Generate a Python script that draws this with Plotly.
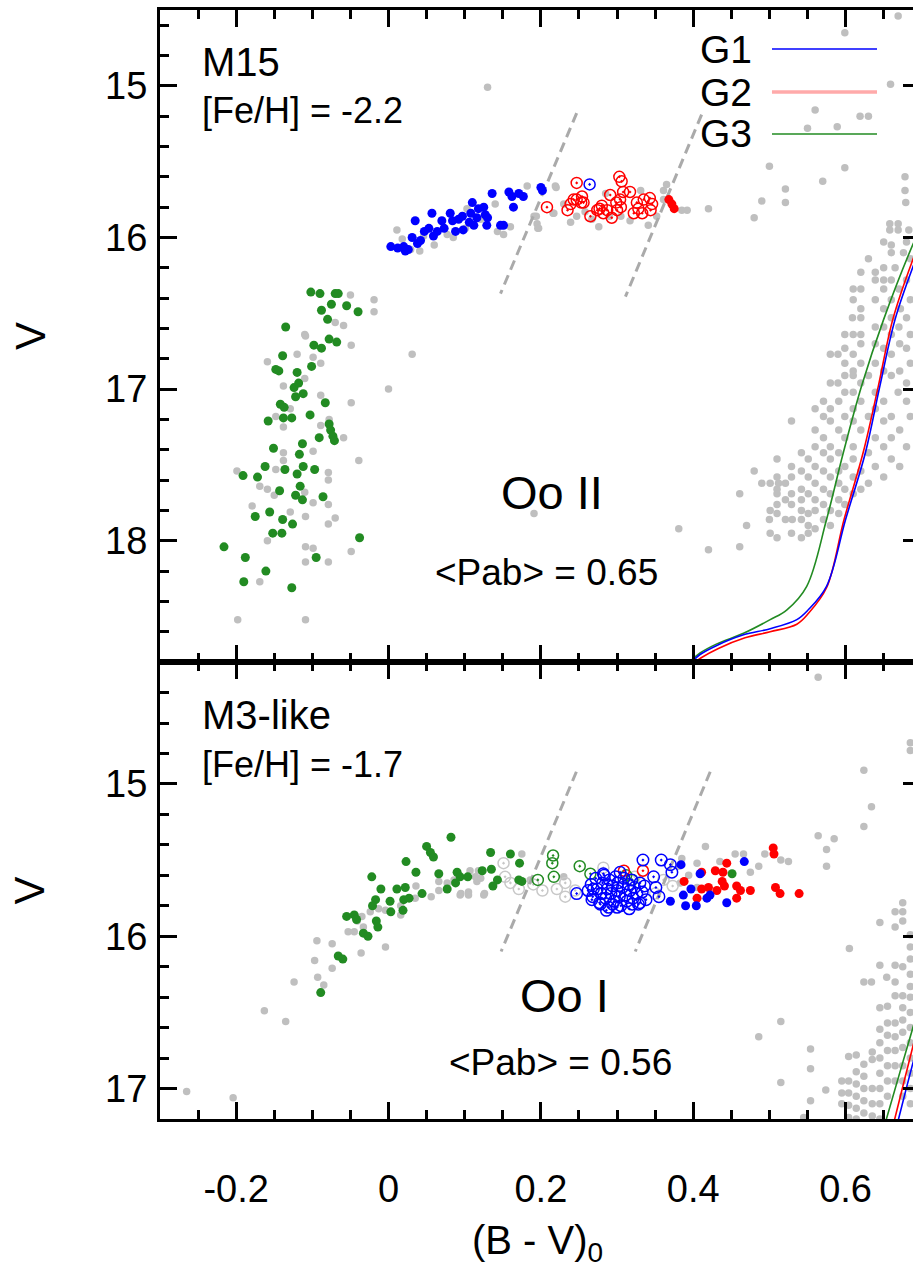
import plotly.graph_objects as go

# ---------------- data (B-V)_0, V ----------------
# upper panel: M15
top_gray = [
    (-0.050,16.38),(-0.019,16.41),(-0.019,16.49),(-0.059,16.58),(-0.070,16.56),(-0.110,16.64),(-0.109,16.65),
    (-0.049,16.71),(0.031,16.77),(-0.159,16.82),(-0.120,16.77),(-0.099,16.79),(-0.089,16.83),(-0.138,16.98),
    (-0.110,16.93),(0.000,17.00),(-0.089,17.04),(-0.049,17.09),(-0.129,17.13),(-0.148,17.18),(-0.138,17.25),
    (-0.089,17.24),(-0.078,17.20),(-0.059,17.32),(-0.099,17.41),(-0.138,17.42),(-0.138,17.47),(-0.039,17.47),
    (-0.199,17.54),(-0.148,17.53),(-0.079,17.55),(-0.079,17.60),(-0.169,17.64),(-0.159,17.66),(-0.150,17.70),
    (-0.110,17.68),(-0.099,17.75),(-0.079,17.76),(-0.179,17.77),(-0.129,17.81),(-0.109,17.84),(-0.070,17.85),
    (-0.079,17.89),(-0.159,18.00),(-0.109,18.04),(-0.099,18.05),(-0.049,18.07),(-0.109,18.14),(-0.079,18.14),
    (-0.169,18.27),(-0.198,18.52),(-0.109,18.52),
    (0.011,15.95),(0.018,16.01),(0.029,16.08),(0.041,16.09),(0.046,15.99),(0.077,15.98),(0.101,15.94),
    (0.121,15.88),(0.140,15.78),(0.143,15.96),(0.151,15.98),(0.160,15.93),(0.182,15.66),(0.191,15.86),
    (0.195,15.91),(0.197,15.94),(0.219,15.66),(0.216,15.84),(0.103,15.81),(0.085,16.00),(0.060,16.05),
    (0.130,15.01),
    (0.220,15.67),(0.194,15.86),(0.196,15.94),(0.217,15.84),(0.239,15.90),(0.276,15.93),(0.285,15.71),
    (0.317,15.89),(0.331,15.69),(0.341,15.92),(0.361,15.69),(0.365,15.65),(0.361,15.75),(0.385,15.82),
    (0.392,15.82),(0.420,15.81),(0.267,15.88),(0.247,15.86),(0.258,15.83),(0.290,15.86),(0.305,15.86),
    (0.352,15.86),(0.230,15.78),
    (0.669,14.54),(0.599,14.65),(0.659,14.99),(0.560,15.16),(0.619,15.20),(0.630,15.20),(0.550,15.28),
    (0.589,15.27),(0.500,15.53),(0.599,15.54),(0.570,15.63),(0.521,15.68),(0.521,15.77),(0.490,15.76),
    (0.480,15.87),(0.678,15.60),(0.678,15.69),(0.679,15.77),
    (0.191,17.82),(0.381,17.92),(0.420,18.06),(0.461,18.04),(0.470,17.90),(0.480,17.54),(0.461,17.69),
    (0.529,17.21),(0.560,17.38),
]
# red-giant branch of M15, by rows: (V, [B-V values])
top_rgb_rows = [
    (15.91,[0.658,0.669]),(15.95,[0.658,0.669,0.683]),(16.03,[0.650,0.680]),(16.05,[0.660]),
    (16.10,[0.660,0.676]),(16.14,[0.630,0.685]),(16.20,[0.650,0.665]),(16.23,[0.620,0.639]),
    (16.28,[0.639,0.650,0.660,0.680]),(16.34,[0.610,0.620,0.650,0.670]),(16.41,[0.610,0.639,0.660,0.685]),
    (16.47,[0.620,0.650,0.672]),(16.53,[0.609,0.620,0.660,0.680]),(16.59,[0.639,0.650,0.670]),
    (16.64,[0.599,0.610,0.620,0.660,0.685]),(16.70,[0.620,0.639,0.671]),(16.73,[0.599,0.650,0.680]),
    (16.77,[0.580,0.590,0.610,0.660]),(16.83,[0.599,0.620,0.639,0.685]),(16.88,[0.610,0.650,0.671]),
    (16.91,[0.599,0.610,0.630,0.660]),(16.96,[0.580,0.590,0.620,0.680]),(17.02,[0.599,0.610,0.639,0.669]),
    (17.08,[0.571,0.591,0.620,0.650,0.680]),(17.13,[0.560,0.580,0.610,0.639]),
    (17.18,[0.571,0.599,0.630,0.660,0.685]),(17.21,[0.580,0.610,0.650]),(17.27,[0.560,0.591,0.620,0.671]),
    (17.32,[0.571,0.599,0.639,0.660]),(17.38,[0.580,0.610,0.650,0.680]),(17.42,[0.542,0.571,0.591,0.630]),
    (17.46,[0.510,0.551,0.580,0.610,0.660]),(17.51,[0.529,0.560,0.599,0.639,0.671]),
    (17.54,[0.542,0.571,0.591,0.620]),(17.58,[0.510,0.529,0.551,0.580,0.610,0.650]),
    (17.62,[0.490,0.501,0.512,0.521,0.560,0.591,0.630]),(17.66,[0.510,0.542,0.571,0.599,0.620]),
    (17.69,[0.510,0.529,0.551,0.580,0.610]),(17.73,[0.521,0.542,0.560,0.591]),
    (17.76,[0.510,0.529,0.571,0.599]),(17.80,[0.501,0.542,0.560,0.580]),(17.82,[0.510,0.551,0.591]),
    (17.86,[0.500,0.521,0.530,0.542,0.571]),(17.90,[0.551,0.580]),(17.92,[0.560]),
    (17.95,[0.501,0.529,0.551]),(17.98,[0.510,0.542]),
]
top_green = [
    (-0.102,16.36),(-0.090,16.37),(-0.070,16.37),(-0.066,16.37),(-0.075,16.44),(-0.055,16.45),(-0.088,16.48),
    (-0.040,16.49),(-0.080,16.54),(-0.135,16.59),(-0.078,16.67),(-0.098,16.71),(-0.088,16.73),(-0.068,16.69),
    (-0.139,16.78),(-0.148,16.87),(-0.144,16.88),(-0.101,16.85),(-0.120,16.89),(-0.124,16.99),(-0.118,16.96),
    (-0.112,17.03),(-0.122,17.05),(-0.083,17.09),(-0.142,17.10),(-0.137,17.12),(-0.158,17.21),(-0.138,17.19),
    (-0.127,17.19),(-0.103,17.17),(-0.078,17.23),(-0.076,17.27),(-0.073,17.31),(-0.071,17.34),(-0.091,17.32),
    (-0.113,17.36),(-0.151,17.39),(-0.117,17.43),(-0.162,17.51),(-0.136,17.53),(-0.112,17.51),(-0.097,17.53),
    (-0.120,17.56),(-0.191,17.57),(-0.172,17.58),(-0.116,17.64),(-0.143,17.67),(-0.122,17.70),(-0.113,17.73),
    (-0.086,17.71),(-0.156,17.81),(-0.175,17.84),(-0.139,17.86),(-0.126,17.89),(-0.152,17.95),(-0.140,17.95),
    (-0.038,17.98),(-0.216,18.04),(-0.188,18.11),(-0.095,18.11),(-0.161,18.20),(-0.190,18.27),(-0.127,18.31),
]
top_blue = [
    (0.003,16.06),(0.020,16.06),(0.022,16.09),(0.031,16.00),(0.038,16.04),(0.042,16.02),(0.035,15.89),
    (0.053,15.94),(0.057,15.84),(0.059,15.99),(0.064,15.96),(0.070,15.89),(0.073,15.94),(0.081,15.84),
    (0.084,15.89),(0.088,15.96),(0.092,15.88),(0.097,15.86),(0.108,15.84),(0.110,15.77),(0.112,15.92),
    (0.116,15.87),(0.118,15.81),(0.125,15.80),(0.127,15.85),(0.129,15.92),(0.130,15.87),(0.136,15.71),
    (0.147,15.92),(0.151,15.92),(0.158,15.70),(0.162,15.73),(0.164,15.80),(0.171,15.71),(0.177,15.73),
    (0.200,15.67),(0.202,15.69),(0.012,16.07),(0.026,16.08),(0.047,15.96),(0.098,15.95),(0.106,15.90),
]
top_red_open = [
    (0.247,15.64),(0.208,15.80),(0.235,15.82),(0.243,15.75),(0.254,15.73),(0.256,15.77),(0.265,15.86),
    (0.277,15.81),(0.280,15.79),(0.287,15.82),(0.293,15.87),(0.291,15.72),(0.303,15.60),(0.306,15.63),
    (0.304,15.75),(0.308,15.70),(0.317,15.70),(0.299,15.77),(0.305,15.80),(0.326,15.77),(0.328,15.81),
    (0.335,15.75),(0.343,15.74),(0.346,15.78),(0.322,15.84),(0.333,15.84),(0.344,15.82),(0.274,15.82),
    (0.282,15.84),(0.300,15.82),(0.247,15.75),(0.253,15.77),(0.239,15.78),
]
top_blue_open = [(0.264,15.65)]
top_red = [(0.368,15.75),(0.372,15.78),(0.375,15.81)]

# lower panel: M3-like
bot_gray = [
    (-0.265,17.02),(-0.204,17.06),(-0.163,16.49),(-0.135,16.56),(-0.124,16.30),(-0.093,16.27),(-0.085,16.32),
    (-0.097,16.16),(-0.074,16.21),(-0.036,16.11),(-0.094,16.03),(-0.074,16.05),(-0.053,15.97),(-0.045,15.97),
    (-0.004,16.07),(-0.033,15.94),(-0.024,15.84),(-0.013,15.82),(-0.004,15.83),(0.016,15.86),(0.016,15.80),
    (0.035,15.75),(0.036,15.67),(0.056,15.74),(0.066,15.70),(0.066,15.64),(0.077,15.65),(0.095,15.72),
    (0.105,15.71),(0.116,15.64),(0.118,15.57),(0.126,15.72),(0.086,15.63),(-0.035,15.87),(-0.041,15.90),
    (0.094,15.73),(0.105,15.73),(0.125,15.73),(0.114,15.61),(0.121,15.62),(0.107,15.57),(0.175,15.46),
    (0.186,15.63),(0.230,15.61),
    (0.385,15.49),(0.405,15.52),(0.416,15.41),(0.435,15.51),(0.455,15.46),(0.466,15.46),(0.475,15.58),
    (0.486,15.54),(0.494,15.46),(0.525,15.51),(0.515,15.50),(0.405,15.68),(0.383,15.65),(0.381,15.54),
    (0.394,15.60),(0.564,14.30),(0.564,15.34),(0.585,15.36),(0.575,15.43),(0.575,15.54),(0.624,14.91),
    (0.634,15.15),(0.624,15.28),(0.685,14.73),(0.685,14.78),
    (0.515,16.56),(0.486,16.66),(0.554,16.74),(0.554,16.87),(0.515,16.96),(0.574,17.01),(0.554,17.08),
    (0.605,16.08),(0.645,15.91),(0.665,15.84),(0.675,15.78),(0.675,15.84),(0.675,15.90),(0.665,15.94),
    (0.685,15.99),(0.685,16.07),(0.685,16.15),(0.685,16.25),(0.685,16.33),(0.685,16.40),(0.645,16.19),
    (0.665,16.19),(0.675,16.20),(0.624,16.30),(0.634,16.30),(0.654,16.27),(0.665,16.30),(0.665,16.39),
    (0.675,16.39),(0.645,16.47),(0.655,16.46),(0.675,16.47),(0.675,16.55),(0.675,16.63),(0.675,16.73),
    (0.655,16.57),(0.655,16.65),(0.655,16.75),(0.665,16.57),(0.665,16.66),(0.665,16.75),(0.645,16.61),
    (0.645,16.70),(0.645,16.80),(0.645,16.90),(0.645,17.00),(0.645,17.10),(0.645,17.20),(0.635,16.76),
    (0.635,16.81),(0.624,16.84),(0.624,16.92),(0.624,17.00),(0.624,17.08),(0.624,17.16),(0.614,16.78),
    (0.614,16.89),(0.614,16.97),(0.614,17.05),(0.614,17.13),(0.614,17.20),(0.604,16.79),(0.604,16.95),
    (0.604,17.03),(0.604,17.11),(0.604,17.19),(0.595,16.95),(0.595,17.03),(0.595,17.10),(0.545,17.19),
    (0.685,16.50),(0.685,16.60),(0.685,16.70),(0.685,16.80),(0.685,16.90),(0.685,17.00),(0.685,17.10),
    (0.675,16.85),(0.675,16.95),(0.675,17.05),(0.665,16.85),(0.665,16.95),(0.655,16.85),(0.655,16.95),
    (0.655,17.05),(0.635,17.00),(0.635,17.10),(0.635,17.18),
]
bot_gray_open = [
    (0.151,15.52),(0.153,15.61),(0.160,15.65),(0.171,15.69),(0.202,15.70),(0.221,15.69),(0.232,15.65),
    (0.232,15.74),(0.282,15.55),(0.323,15.61),(0.361,15.63),(0.373,15.67),(0.350,15.72),(0.190,15.66),
    (0.245,15.70),
]
bot_green = [
    (0.082,15.35),(0.050,15.41),(0.055,15.45),(0.059,15.48),(0.134,15.45),(0.023,15.51),(0.036,15.58),
    (0.066,15.59),(0.090,15.58),(0.094,15.61),(0.104,15.61),(0.123,15.57),(0.135,15.56),(0.143,15.63),
    (0.137,15.67),(0.160,15.46),(0.088,15.65),(0.077,15.69),(0.044,15.72),(-0.022,15.61),(-0.010,15.69),
    (0.011,15.69),(0.022,15.68),(0.020,15.76),(0.027,15.75),(0.002,15.77),(-0.017,15.76),(-0.021,15.80),
    (0.019,15.83),(0.003,15.84),(-0.055,15.87),(-0.045,15.86),(-0.042,15.89),(-0.016,15.90),(-0.014,15.94),
    (-0.033,15.98),(-0.027,16.00),(-0.066,16.13),(-0.060,16.15),(-0.089,16.37),(0.172,15.52),(0.171,15.63),
    (0.175,15.64),(0.451,15.59),
]
bot_green_open = [(0.216,15.47),(0.215,15.52),(0.217,15.61),(0.251,15.54),(0.265,15.59),(0.196,15.63),
                  (0.320,15.63),(0.312,15.60)]
bot_blue_open = [
    (0.262,15.70),(0.266,15.66),(0.268,15.74),(0.272,15.62),(0.274,15.69),(0.277,15.78),(0.279,15.72),
    (0.281,15.65),(0.283,15.60),(0.285,15.75),(0.287,15.69),(0.289,15.81),(0.290,15.63),(0.292,15.72),
    (0.294,15.67),(0.296,15.77),(0.298,15.61),(0.300,15.70),(0.301,15.65),(0.303,15.74),(0.305,15.80),
    (0.307,15.68),(0.309,15.62),(0.311,15.73),(0.313,15.77),(0.315,15.66),(0.317,15.70),(0.319,15.63),
    (0.321,15.75),(0.323,15.68),(0.326,15.72),(0.328,15.79),(0.330,15.65),(0.333,15.71),(0.336,15.67),
    (0.338,15.76),(0.286,15.83),(0.304,15.58),(0.294,15.79),(0.316,15.82),
    (0.247,15.72),(0.334,15.50),(0.358,15.50),(0.370,15.53),(0.372,15.58),(0.348,15.61),(0.351,15.68),
    (0.355,15.74),(0.282,15.59),(0.278,15.79),(0.300,15.81),(0.320,15.79),(0.330,15.78),(0.267,15.76),
    (0.269,15.69),
]
bot_red_open = [(0.309,15.57),(0.334,15.57)]
bot_red = [
    (0.505,15.42),(0.506,15.46),(0.444,15.52),(0.429,15.57),(0.439,15.58),(0.411,15.58),(0.388,15.64),
    (0.438,15.64),(0.441,15.67),(0.457,15.67),(0.411,15.69),(0.420,15.68),(0.431,15.70),(0.462,15.70),
    (0.475,15.70),(0.457,15.75),(0.405,15.75),(0.508,15.68),(0.514,15.72),(0.539,15.72),
]
bot_blue = [(0.384,15.53),(0.467,15.51),(0.397,15.69),(0.387,15.73),(0.370,15.77),(0.390,15.80),
            (0.404,15.80),(0.418,15.75),(0.422,15.73),(0.444,15.78),(0.409,15.59)]

# isochrones (G1 blue, G2 red, G3 green)
top_iso_g1 = [(0.398,18.80),(0.409,18.75),(0.431,18.69),(0.466,18.62),(0.501,18.58),(0.536,18.52),
              (0.551,18.455),(0.575,18.30),(0.600,17.86),(0.626,17.42),(0.645,16.98),(0.665,16.54),
              (0.688,16.20),(0.720,15.80)]
top_iso_g2 = [(0.400,18.81),(0.411,18.77),(0.433,18.71),(0.468,18.64),(0.501,18.60),(0.536,18.55),
              (0.551,18.48),(0.575,18.31),(0.598,17.86),(0.623,17.42),(0.643,16.98),(0.662,16.54),
              (0.688,16.15),(0.720,15.75)]
top_iso_g3 = [(0.395,18.80),(0.409,18.74),(0.431,18.68),(0.466,18.61),(0.501,18.52),(0.523,18.455),
              (0.549,18.30),(0.575,17.86),(0.597,17.42),(0.621,16.98),(0.650,16.54),(0.688,16.05),
              (0.720,15.70)]
bot_iso_g1 = [(0.662,17.35),(0.669,17.21),(0.689,16.82),(0.700,16.62)]
bot_iso_g2 = [(0.657,17.35),(0.664,17.21),(0.689,16.71),(0.700,16.50)]
bot_iso_g3 = [(0.645,17.35),(0.653,17.21),(0.689,16.59),(0.700,16.41)]

# Oosterhoff boundary lines
top_bound_1 = [(0.247,15.18),(0.147,16.37)]
top_bound_2 = [(0.411,15.19),(0.311,16.39)]
bot_bound_1 = [(0.2466,14.92),(0.1478,16.10)]
bot_bound_2 = [(0.4223,14.92),(0.3239,16.10)]

x_range = [-0.3, 0.6885]
top_v_range = [18.8, 14.5]
bot_v_range = [17.2, 14.2]
x_tick_vals = [-0.2, 0.0, 0.2, 0.4, 0.6]
x_tick_text = ['-0.2', '0', '0.2', '0.4', '0.6']

GRAY = '#bfbfbf'
BLUE = '#0000ff'
RED = '#ff0000'
GREEN = '#228b22'

fig = go.Figure()


def xs(pts):
    return [p[0] for p in pts]


def ys(pts):
    return [p[1] for p in pts]


def pts_trace(pts, xa, ya, color, size=9, symbol='circle', lw=0):
    marker = dict(color=color, size=size, symbol=symbol)
    if 'open' in symbol:
        marker['line'] = dict(color=color, width=lw)
    else:
        marker['line'] = dict(width=0)
    fig.add_trace(go.Scatter(x=xs(pts), y=ys(pts), mode='markers', xaxis=xa, yaxis=ya,
                             marker=marker, showlegend=False, hoverinfo='skip'))


def line_trace(pts, xa, ya, color, width=1.6, dash=None):
    fig.add_trace(go.Scatter(x=xs(pts), y=ys(pts), mode='lines', xaxis=xa, yaxis=ya,
                             line=dict(color=color, width=width, dash=dash, shape='spline'),
                             showlegend=False, hoverinfo='skip'))


top_rgb = [(x, v) for v, row in top_rgb_rows for x in row]

# upper panel
pts_trace(top_gray + top_rgb, 'x', 'y', GRAY, size=7.5)
line_trace(top_bound_1, 'x', 'y', '#aaaaaa', width=3, dash='10px,6px')
line_trace(top_bound_2, 'x', 'y', '#aaaaaa', width=3, dash='10px,6px')
pts_trace(top_green, 'x', 'y', GREEN, size=9)
pts_trace(top_blue, 'x', 'y', BLUE, size=9)
pts_trace(top_red_open, 'x', 'y', RED, size=11, symbol='circle-open-dot', lw=1.5)
pts_trace(top_blue_open, 'x', 'y', BLUE, size=11, symbol='circle-open-dot', lw=1.5)
pts_trace(top_red, 'x', 'y', RED, size=9)
line_trace(top_iso_g3, 'x', 'y', GREEN)
line_trace(top_iso_g2, 'x', 'y', RED)
line_trace(top_iso_g1, 'x', 'y', BLUE)

# lower panel
pts_trace(bot_gray, 'x2', 'y2', GRAY, size=7.5)
pts_trace(bot_gray_open, 'x2', 'y2', '#c8c8c8', size=11, symbol='circle-open-dot', lw=1.5)
line_trace(bot_bound_1, 'x2', 'y2', '#aaaaaa', width=3, dash='10px,6px')
line_trace(bot_bound_2, 'x2', 'y2', '#aaaaaa', width=3, dash='10px,6px')
pts_trace(bot_green, 'x2', 'y2', GREEN, size=9)
pts_trace(bot_green_open, 'x2', 'y2', GREEN, size=11, symbol='circle-open-dot', lw=1.5)
pts_trace(bot_red_open, 'x2', 'y2', RED, size=11, symbol='circle-open-dot', lw=1.5)
pts_trace(bot_blue_open, 'x2', 'y2', BLUE, size=11.5, symbol='circle-open-dot', lw=1.5)
pts_trace(bot_red, 'x2', 'y2', RED, size=9)
pts_trace(bot_blue, 'x2', 'y2', BLUE, size=9)
line_trace(bot_iso_g3, 'x2', 'y2', GREEN)
line_trace(bot_iso_g2, 'x2', 'y2', RED)
line_trace(bot_iso_g1, 'x2', 'y2', BLUE)

# empty traces so the right-hand tick axes are drawn
fig.add_trace(go.Scatter(x=[None], y=[None], xaxis='x', yaxis='y3', showlegend=False, hoverinfo='skip'))
fig.add_trace(go.Scatter(x=[None], y=[None], xaxis='x2', yaxis='y4', showlegend=False, hoverinfo='skip'))

SANS = 'Liberation Sans, Arial, sans-serif'
tickfont = dict(family=SANS, size=38, color='black')

SPLIT = 0.412
xcommon = dict(range=x_range, showline=True, linecolor='black', linewidth=3, mirror='ticks',
               ticks='inside', ticklen=17, tickwidth=2.5, tickcolor='black',
               tickmode='array', tickvals=x_tick_vals, ticktext=x_tick_text, tickangle=0,
               minor=dict(ticks='inside', ticklen=9, tickwidth=2.5, tickcolor='black', dtick=0.05,
                          tick0=0, showgrid=False),
               showgrid=False, zeroline=False, tickfont=tickfont, automargin=False)
ycommon = dict(showline=True, linecolor='black', linewidth=3, mirror=False,
               ticks='inside', ticklen=17, tickwidth=2.5, tickcolor='black', dtick=1, tick0=15,
               minor=dict(ticks='inside', ticklen=9, tickwidth=2.5, tickcolor='black', dtick=0.2, showgrid=False),
               showgrid=False, zeroline=False, tickfont=tickfont, ticklabelstandoff=2, automargin=False)
yright = dict(side='right', showline=False, ticks='inside', ticklen=10, tickwidth=2.5, tickcolor='black',
              dtick=1, tick0=15, showticklabels=False, showgrid=False, zeroline=False, automargin=False)

fig.update_layout(
    width=913, height=1267,
    margin=dict(l=160, r=0, t=10, b=148, autoexpand=False),
    paper_bgcolor='white', plot_bgcolor='white',
    showlegend=False,
    xaxis=dict(xcommon, anchor='y', domain=[0, 1], showticklabels=False),
    xaxis2=dict(xcommon, anchor='y2', domain=[0, 1], matches='x', ticklabelstandoff=34),
    yaxis=dict(ycommon, anchor='x', domain=[SPLIT, 1], range=top_v_range),
    yaxis2=dict(ycommon, anchor='x2', domain=[0, SPLIT], range=bot_v_range),
    yaxis3=dict(yright, overlaying='y', anchor='x', range=top_v_range),
    yaxis4=dict(yright, overlaying='y2', anchor='x2', range=bot_v_range),
)

ann = []
def txt(text, x, y, xref, yref, size, xanchor='left', angle=0):
    ann.append(dict(text=text, x=x, y=y, xref=xref, yref=yref, showarrow=False, xanchor=xanchor,
                    yanchor='middle', textangle=angle, font=dict(family=SANS, size=size, color='black')))

txt('M15', -0.248, 14.84, 'x', 'y', 40)
txt('[Fe/H] = -2.2', -0.248, 15.16, 'x', 'y', 36)
txt('Oo II', 0.2147, 17.68, 'x', 'y', 47, xanchor='center')
txt('&lt;Pab&gt; = 0.65', 0.207, 18.21, 'x', 'y', 37, xanchor='center')
txt('M3-like', -0.248, 14.55, 'x2', 'y2', 40)
txt('[Fe/H] = -1.7', -0.248, 14.87, 'x2', 'y2', 36)
txt('Oo I', 0.231, 16.39, 'x2', 'y2', 47, xanchor='center')
txt('&lt;Pab&gt; = 0.56', 0.2256, 16.83, 'x2', 'y2', 37, xanchor='center')
txt('V', -0.1726, 0.5, 'paper', 'y domain', 42, xanchor='center', angle=-90)
txt('V', -0.1726, 0.5, 'paper', 'y2 domain', 42, xanchor='center', angle=-90)
txt('(B - V)<sub>0</sub>', 0.195, -0.1118, 'x2', 'paper', 40, xanchor='center')

# legend (text followed by line sample)
legend_items = [('G1', BLUE, 1.6), ('G2', '#ffaaaa', 3.5), ('G3', GREEN, 1.6)]
legend_y = [0.9648, 0.9260, 0.8882]
shapes = []
for (lab, col, w), ly in zip(legend_items, legend_y):
    txt(lab, 0.7145, ly, 'paper', 'paper', 39)
    shapes.append(dict(type='line', xref='paper', yref='paper', x0=0.8127, x1=0.9522, y0=ly, y1=ly,
                       line=dict(color=col, width=w)))

fig.update_layout(annotations=ann, shapes=shapes)
fig.write_html('out.html')
